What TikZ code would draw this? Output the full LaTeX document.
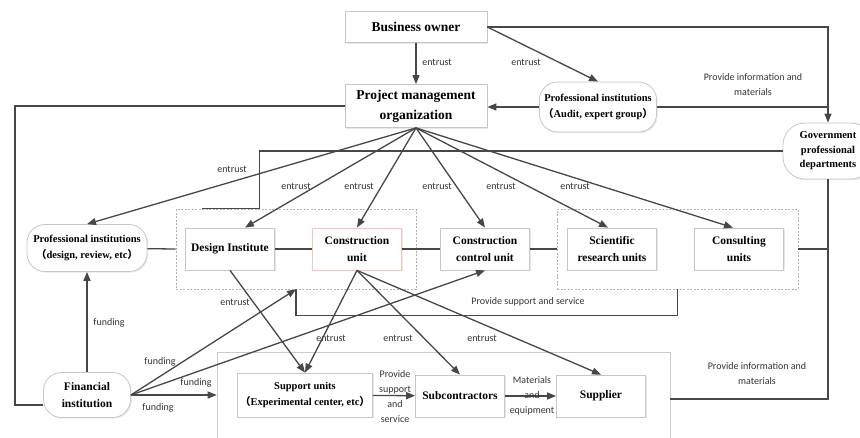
\documentclass[tikz,border=0pt]{standalone}
\usepackage{fontspec}
\setmainfont{Liberation Serif}
\newfontfamily\lblfont{Carlito}
\newfontfamily\cjk{Noto Sans CJK SC}
\usepackage{tikz}
\usetikzlibrary{arrows.meta,calc,positioning,shadows}

\newcommand{\lpar}{{\cjk （}}
\newcommand{\rpar}{{\cjk ）}}

\begin{document}
\begin{tikzpicture}[x=1pt,y=-1pt,
  unitbox/.style={draw=black!22,fill=white,line width=0.8pt,align=center,inner sep=1pt,
    drop shadow={opacity=0.18,shadow xshift=1.2pt,shadow yshift=-1.2pt},
    font=\fontsize{11.5}{17}\selectfont\bfseries,minimum width=89pt,minimum height=42pt},
  roundbox/.style={unitbox,rounded corners=18pt},
  bigtext/.style={font=\fontsize{13.5}{20}\selectfont\bfseries},
  smalltext/.style={font=\fontsize{10.5}{16.5}\selectfont\bfseries},
  grpbox/.style={draw=black!30,dash pattern=on 2pt off 1.5pt,line width=0.6pt},
  link/.style={draw=black!72,line width=1.3pt},
  linkarr/.style={link,-{Triangle[length=9pt,width=7pt]}},
  lbl/.style={font=\lblfont\fontsize{10}{15}\selectfont,text=black!80,align=center,inner sep=0pt}]
\useasboundingbox (0,0) rectangle (860,437);

\node[grpbox,minimum width=240pt,minimum height=80pt] (grpA) at (296,249) {};
\node[grpbox,minimum width=241pt,minimum height=80pt] (grpB) at (677.5,249) {};
\node[draw=black!20,line width=0.6pt,minimum width=453pt,minimum height=94pt] (lower) at (443.5,399) {};

\node[unitbox,bigtext,minimum width=142pt,minimum height=31pt] (owner) at (416,27) {Business owner};
\node[unitbox,bigtext,minimum width=142pt,minimum height=43pt] (pmo) at (416,106) {Project management\\organization};
\node[roundbox,smalltext,minimum width=117pt,minimum height=50pt] (audit) at (598,107) {Professional institutions\\\lpar Audit, expert group\rpar};
\node[roundbox,font=\fontsize{10.5}{14.5}\selectfont\bfseries,minimum width=90pt,minimum height=56pt,rounded corners=22pt] (gov) at (828,151) {Government\\professional\\departments};

\node[roundbox,smalltext,minimum width=120pt,minimum height=47pt] (profd) at (87,248) {Professional institutions\\\lpar design, review, etc\rpar};
\node[unitbox] (design) at (230,249) {Design Institute};
\node[unitbox,draw=red!25] (constr) at (357,249) {Construction\\unit};
\node[unitbox] (control) at (485,249) {Construction\\control unit};
\node[unitbox] (sci) at (612,249) {Scientific\\research units};
\node[unitbox] (consult) at (739,249) {Consulting\\units};

\node[roundbox,minimum width=87pt,minimum height=45pt] (fin) at (87,395) {Financial\\institution};
\node[unitbox,smalltext,minimum width=135pt,minimum height=44pt] (support) at (305,395) {Support units\\\lpar Experimental center, etc\rpar};
\node[unitbox] (subc) at (460,396) {Subcontractors};
\node[unitbox] (supplier) at (601,396) {Supplier};

\draw[linkarr] (owner) -- (pmo);
\draw[linkarr] (owner.east) -- (audit.north);
\draw[linkarr] (owner.east) -| (gov.north);
\draw[linkarr] (audit.west) -- (audit.west -| pmo.east);
\draw[link] (audit.east) -- (audit.east -| gov.north);
\draw[link] (gov.west) -| ([xshift=84]grpA.north west) -- ([xshift=26]grpA.north west);
\draw[link] (pmo.west) -| ([xshift=-28,yshift=-10]fin.west) -- ([yshift=-10]fin.west);
\draw[link] (gov.south) |- (lower.east);
\draw[link] (grpB.east) -- (grpB.east -| gov.south);

\draw[link] (profd) -- (grpA.west);
\draw[link] (design) -- (constr);
\draw[link] (constr) -- (control);
\draw[link] (control) -- (grpB.west);

\draw[linkarr] (pmo.south) -- (profd.north);
\draw[linkarr] (pmo.south) -- ([xshift=15]design.north);
\draw[linkarr] (pmo.south) -- (constr.north);
\draw[linkarr] (pmo.south) -- (control.north);
\draw[linkarr] (pmo.south) -- ([xshift=-4]sci.north);
\draw[linkarr] (pmo.south) -- ([xshift=-6]consult.north);

\draw[linkarr] (fin.north) -- (profd.south);
\draw[linkarr] (fin.east) -- (grpA.south);
\draw[linkarr] (fin.east) -- (control.south);
\draw[linkarr] (fin.east) -- (fin.east -| lower.west);
\draw[link] (grpB.south) |- ([yshift=-26]grpA.south) -- (grpA.south);

\draw[linkarr] (design.south) -- (support.north);
\draw[linkarr] (constr.south) -- (support.north);
\draw[linkarr] (constr.south) -- (subc.north);
\draw[linkarr] (constr.south) -- (supplier.north);
\draw[linkarr] (support) -- (subc);
\draw[linkarr] (subc) -- (supplier);

\node[lbl] (l1) at (437,62) {entrust};
\node[lbl] (l2) at (526,62) {entrust};
\node[lbl] (l3) at (753,85) {Provide information and\\materials};
\node[lbl] (l4) at (232,169) {entrust};
\node[lbl] (l5) at (296,186) {entrust};
\node[lbl] (l6) at (359,186) {entrust};
\node[lbl] (l7) at (437,186) {entrust};
\node[lbl] (l8) at (501,186) {entrust};
\node[lbl] (l9) at (575,186) {entrust};
\node[lbl] (l10) at (109,323) {funding};
\node[lbl] (l11) at (160,362) {funding};
\node[lbl] (l12) at (196,383) {funding};
\node[lbl] (l13) at (158,408) {funding};
\node[lbl] (l14) at (235,302) {entrust};
\node[lbl] (l15) at (331,338) {entrust};
\node[lbl] (l16) at (398,338) {entrust};
\node[lbl] (l17) at (482,338) {entrust};
\node[lbl] (l18) at (395,397) {Provide\\support\\and\\service};
\node[lbl] (l19) at (532,396) {Materials\\and\\equipment};
\node[lbl] (l20) at (528,302) {Provide support and service};
\node[lbl] (l21) at (757,374) {Provide information and\\materials};
\end{tikzpicture}
\end{document}
